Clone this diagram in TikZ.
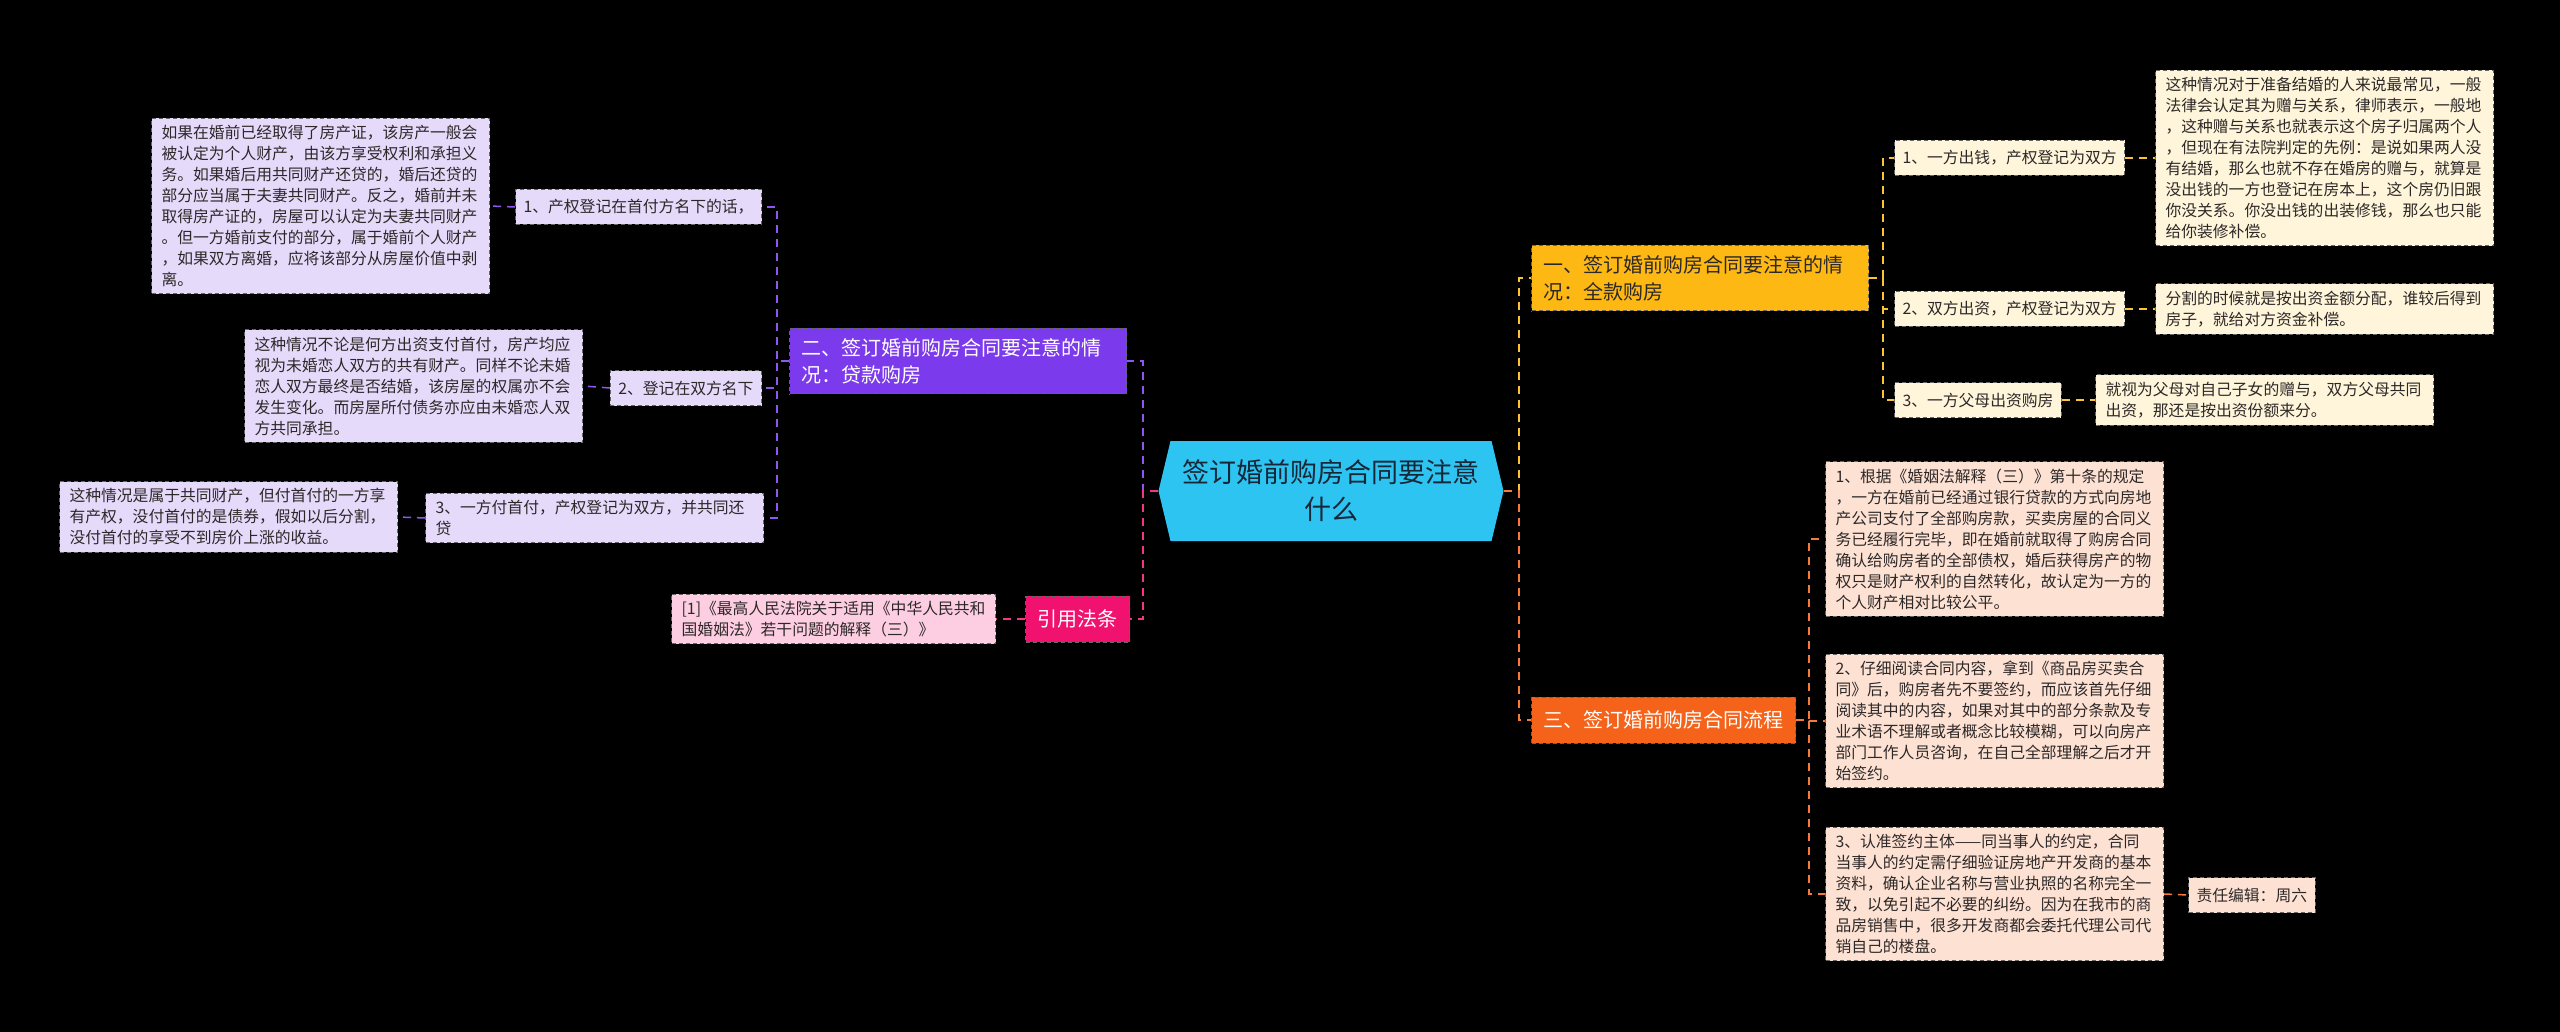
\documentclass[tikz,border=0pt]{standalone}
\usepackage{fontspec}
\usepackage{tikz}
\usepackage{xcolor}
\usetikzlibrary{shapes.symbols, positioning, calc}
\newfontfamily\cjk{Noto Sans CJK SC}
\definecolor{cRoot}{RGB}{45,196,242}
\definecolor{cRootTxt}{RGB}{22,40,56}
\definecolor{cPurple}{RGB}{124,58,237}
\definecolor{cLav}{RGB}{230,218,251}
\definecolor{cPink}{RGB}{240,18,110}
\definecolor{cPinkLt}{RGB}{253,206,226}
\definecolor{cAmber}{RGB}{253,184,19}
\definecolor{cCream}{RGB}{255,245,218}
\definecolor{cOrange}{RGB}{245,98,26}
\definecolor{cPeach}{RGB}{253,226,212}
\definecolor{cTxt}{RGB}{45,40,40}
\tikzset{
	rootnode/.style={signal, signal to=west and east, signal pointer angle=153, fill=cRoot, text=cRootTxt, align=center, font=\cjk\fontsize{13.5}{18.5}\selectfont, minimum width=172.5pt, minimum height=50pt, inner sep=2pt},
	headbox/.style ={rectangle, draw=black!60, dash pattern=on 2pt off 1.5pt, line width=0.5pt, align=left, inner xsep=6pt, inner ysep=5pt, minimum height=23pt, font=\cjk\fontsize{10}{13.5}\selectfont},
	% leaf boxes
	leaf/.style    ={rectangle, draw=black!60, dash pattern=on 2pt off 1.5pt, line width=0.5pt, align=left, inner xsep=4pt, inner ysep=3.5pt, minimum height=17.5pt, text=cTxt, font=\cjk\fontsize{7.9}{10.5}\selectfont},
	para/.style    ={leaf, text width=159pt, inner xsep=5pt},
	link/.style    ={dash pattern=on 4pt off 3pt, line width=0.75pt},
}

\begin{document}
\begin{tikzpicture}[x=0.5pt, y=-0.5pt]
	\fill[black] (0,0) rectangle (2560,1032);
	\useasboundingbox (0,0) rectangle (2560,1032);
	\node[rootnode] (root) at (1331,491) {签订婚前购房合同要注意\\什么};

	% left: loan
	\node[headbox, fill=cPurple, text=white, text width=156.5pt, anchor=west] (loan) at (789,361) {二、签订婚前购房合同要注意的情\\况：贷款购房};
	\node[leaf, fill=cLav, anchor=east] (loan1) at (762,207) {1、产权登记在首付方名下的话，};
	\node[leaf, fill=cLav, anchor=east] (loan2) at (762,388) {2、登记在双方名下};
	\node[para, fill=cLav, anchor=east] (loan3) at (764,518) {3、一方付首付，产权登记为双方，并共同还\\贷};
	\node[para, fill=cLav, anchor=east] (loan1t) at (490,206) {如果在婚前已经取得了房产证，该房产一般会\\被认定为个人财产，由该方享受权利和承担义\\务。如果婚后用共同财产还贷的，婚后还贷的\\部分应当属于夫妻共同财产。反之，婚前并未\\取得房产证的，房屋可以认定为夫妻共同财产\\。但一方婚前支付的部分，属于婚前个人财产\\，如果双方离婚，应将该部分从房屋价值中剥\\离。};
	\node[para, fill=cLav, anchor=east] (loan2t) at (583,386) {这种情况不论是何方出资支付首付，房产均应\\视为未婚恋人双方的共有财产。同样不论未婚\\恋人双方最终是否结婚，该房屋的权属亦不会\\发生变化。而房屋所付债务亦应由未婚恋人双\\方共同承担。};
	\node[para, fill=cLav, anchor=east] (loan3t) at (398,517) {这种情况是属于共同财产，但付首付的一方享\\有产权，没付首付的是债券，假如以后分割，\\没付首付的享受不到房价上涨的收益。};

	% left: citation
	\node[headbox, fill=cPink, text=white, anchor=west] (cite) at (1025,619) {引用法条};
	\node[leaf, fill=cPinkLt, anchor=east, inner xsep=5pt] (cite1) at (996,619) {[1]《最高人民法院关于适用《中华人民共和\\国婚姻法》若干问题的解释（三）》};

	% right: full payment
	\node[headbox, fill=cAmber, text=cTxt, text width=156.5pt, anchor=west] (full) at (1531,278) {一、签订婚前购房合同要注意的情\\况：全款购房};
	\node[leaf, fill=cCream, anchor=west] (full1) at (1894,158) {1、一方出钱，产权登记为双方};
	\node[leaf, fill=cCream, anchor=west] (full2) at (1894,309) {2、双方出资，产权登记为双方};
	\node[leaf, fill=cCream, anchor=west] (full3) at (1894,400) {3、一方父母出资购房};
	\node[para, fill=cCream, anchor=west] (full1t) at (2155,158) {这种情况对于准备结婚的人来说最常见，一般\\法律会认定其为赠与关系，律师表示，一般地\\，这种赠与关系也就表示这个房子归属两个人\\，但现在有法院判定的先例：是说如果两人没\\有结婚，那么也就不存在婚房的赠与，就算是\\没出钱的一方也登记在房本上，这个房仍旧跟\\你没关系。你没出钱的出装修钱，那么也只能\\给你装修补偿。};
	\node[para, fill=cCream, anchor=west] (full2t) at (2155,309) {分割的时候就是按出资金额分配，谁较后得到\\房子，就给对方资金补偿。};
	\node[para, fill=cCream, anchor=west] (full3t) at (2095,400) {就视为父母对自己子女的赠与，双方父母共同\\出资，那还是按出资份额来分。};

	% right: procedure
	\node[headbox, fill=cOrange, text=white, anchor=west] (flow) at (1531,720) {三、签订婚前购房合同流程};
	\node[para, fill=cPeach, anchor=west] (flow1) at (1825,539) {1、根据《婚姻法解释（三）》第十条的规定\\，一方在婚前已经通过银行贷款的方式向房地\\产公司支付了全部购房款，买卖房屋的合同义\\务已经履行完毕，即在婚前就取得了购房合同\\确认给购房者的全部债权，婚后获得房产的物\\权只是财产权利的自然转化，故认定为一方的\\个人财产相对比较公平。};
	\node[para, fill=cPeach, anchor=west] (flow2) at (1825,721) {2、仔细阅读合同内容，拿到《商品房买卖合\\同》后，购房者先不要签约，而应该首先仔细\\阅读其中的内容，如果对其中的部分条款及专\\业术语不理解或者概念比较模糊，可以向房产\\部门工作人员咨询，在自己全部理解之后才开\\始签约。};
	\node[para, fill=cPeach, anchor=west] (flow3) at (1825,894) {3、认准签约主体——同当事人的约定，合同\\当事人的约定需仔细验证房地产开发商的基本\\资料，确认企业名称与营业执照的名称完全一\\致，以免引起不必要的纠纷。因为在我市的商\\品房销售中，很多开发商都会委托代理公司代\\销自己的楼盘。};
	\node[leaf, fill=cPeach, anchor=west] (flow3e) at (2188,895) {责任编辑：周六};

	% connectors
	\draw[link, cPurple!85!white] (root.west) -- ++(-15,0) |- (loan.east);
	\draw[link, cPink!85!white] (root.west) -- ++(-15,0) |- (cite.east);
	\draw[link, cAmber!85!white] (root.east) -- ++(15,0) |- (full.west);
	\draw[link, cOrange!85!white] (root.east) -- ++(15,0) |- (flow.west);
	\foreach \n in {loan1,loan2,loan3}
		\draw[link, cPurple!85!white] (loan.west) -- ++(-12,0) |- (\n.east);
	\foreach \n in {1,2,3}
		\draw[link, cPurple!85!white] (loan\n.west) -- (loan\n t.east);
	\draw[link, cPink!85!white] (cite.west) -- (cite1.east);
	\foreach \n in {1,2,3}{
		\draw[link, cAmber!85!white] (full.east) -- ++(14,0) |- (full\n.west);
		\draw[link, cAmber!85!white] (full\n.east) -- (full\n t.west);
		\draw[link, cOrange!85!white] (flow.east) -- ++(13,0) |- (flow\n.west);
	}
	\draw[link, cOrange!85!white] (flow3.east) -- (flow3e.west);
\end{tikzpicture}
\end{document}
